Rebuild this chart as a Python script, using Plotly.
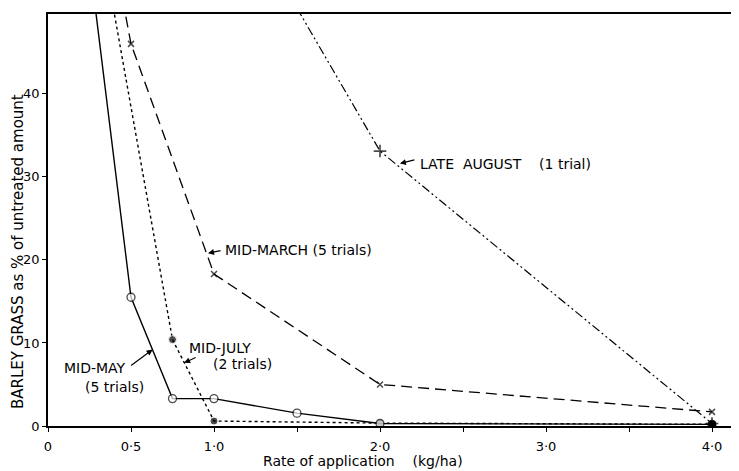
import plotly.graph_objects as go

# Data (first point of each series lies above the plotted range)
may_x = [0.25, 0.5, 0.75, 1.0, 1.5, 2.0, 4.0]
may_y = [56.0, 15.5, 3.3, 3.3, 1.55, 0.3, 0.2]

july_x = [0.35, 0.75, 1.0, 2.0, 4.0]
july_y = [55.2, 10.4, 0.6, 0.35, 0.2]

march_x = [0.45, 0.5, 1.0, 2.0, 4.0]
march_y = [51.3, 46.0, 18.3, 5.0, 1.7]

aug_x = [1.5, 2.0, 4.0]
aug_y = [50.3, 33.1, 0.3]

x_ticks = [0, 0.5, 1.0, 1.5, 2.0, 2.5, 3.0, 3.5, 4.0]
x_labels = ["0", "0·5", "1·0", "", "2·0", "", "3·0", "", "4·0"]
y_ticks = [0, 10, 20, 30, 40]

FONT = "DejaVu Sans"
# page body adds an 8px offset; layout compensates
OFF = 8
W, H = 739 - OFF, 471 - OFF
L, T, B, R = 48 - OFF, 14 - OFF, 45, 0
PW, PH = W - L - R, H - T - B

fig = go.Figure()

def sizes(n, s):
    return [0] + [s] * (n - 1)

fig.add_trace(go.Scatter(
    x=march_x, y=march_y, mode="lines+markers",
    line=dict(color="black", width=1.3, dash="11px,6px"),
    marker=dict(symbol="x-thin", size=sizes(len(march_x), 6), line=dict(color="black", width=1.5), color="black"),
))
fig.add_trace(go.Scatter(
    x=aug_x, y=aug_y, mode="lines+markers",
    line=dict(color="black", width=1.2, dash="9px,3px,2px,3px,2px,3px"),
    marker=dict(symbol="cross-thin", size=sizes(len(aug_x), 9), line=dict(color="black", width=1.7), color="black"),
))
fig.add_trace(go.Scatter(
    x=july_x, y=july_y, mode="lines+markers",
    line=dict(color="black", width=1.4, dash="3px,3px"),
    marker=dict(symbol="circle", size=sizes(len(july_x), 8), color="black"),
))
fig.add_trace(go.Scatter(
    x=may_x, y=may_y, mode="lines+markers",
    line=dict(color="black", width=1.4),
    marker=dict(symbol="circle", size=sizes(len(may_x), 8), color="white", line=dict(color="black", width=1.3)),
))
fig.add_trace(go.Scatter(
    x=[4.0], y=[0.2], mode="markers",
    marker=dict(symbol="circle", size=8, color="black"),
))

ann_font = dict(family=FONT, size=14, color="black")

def arrow(x, y, ax, ay):
    fig.add_annotation(x=x, y=y, ax=ax, ay=ay, text="", showarrow=True, arrowhead=2,
                       arrowsize=1, arrowwidth=1.2, arrowcolor="black")

def label(text, x, y, xanchor):
    fig.add_annotation(x=x, y=y, text=text, showarrow=False, xanchor=xanchor, font=ann_font)

arrow(2.12, 31.6, 16, -4)
arrow(0.964, 20.8, 14, -3)
arrow(0.82, 7.6, 13, -6)
arrow(0.63, 9.2, -23, 17)

label("LATE  AUGUST    (1 trial)", 2.23, 31.6, "left")
label("MID-MARCH (5 trials)", 1.054, 21.2, "left")
label("MID-JULY", 0.837, 9.4, "left")
label("(2 trials)", 1.17, 7.5, "center")
label("MID-MAY", 0.48, 7.0, "right")
label("(5 trials)", 0.40, 4.7, "center")

def page_to_paper(px, py):
    fx, fy = px - OFF, py - OFF
    return (fx - L) / PW, 1 - (fy - T) / PH

yx, yy = page_to_paper(18, 252)
fig.add_annotation(x=yx, y=yy, xref="paper", yref="paper", text="BARLEY GRASS as % of untreated amount",
                   showarrow=False, textangle=-90, xanchor="center", yanchor="middle",
                   font=dict(family=FONT, size=15, color="black"))
tx, ty = page_to_paper(363, 461)
fig.add_annotation(x=tx, y=ty, xref="paper", yref="paper", text="Rate of application    (kg/ha)",
                   showarrow=False, xanchor="center", yanchor="middle",
                   font=dict(family=FONT, size=14, color="black"))

fig.update_layout(
    width=W, height=H,
    margin=dict(l=L, r=R, t=T, b=B, autoexpand=False),
    paper_bgcolor="white", plot_bgcolor="white",
    showlegend=False,
    font=dict(family=FONT, size=13, color="black"),
)

fig.update_xaxes(range=[0, 691 / 166], tickvals=x_ticks, ticktext=x_labels, ticks="outside", ticklen=4,
                 tickwidth=1.2, tickcolor="black", showline=True, linecolor="black", linewidth=1.5,
                 mirror=True, showgrid=False, zeroline=False, automargin=False, ticklabelstandoff=4)
fig.update_yaxes(range=[0, 49.6], tickvals=y_ticks, ticks="outside", ticklen=4, tickwidth=1.2,
                 tickcolor="black", showline=True, linecolor="black", linewidth=1.5, showgrid=False,
                 zeroline=False, ticklabelstandoff=0, automargin=False)

fig.write_html("out.html")
